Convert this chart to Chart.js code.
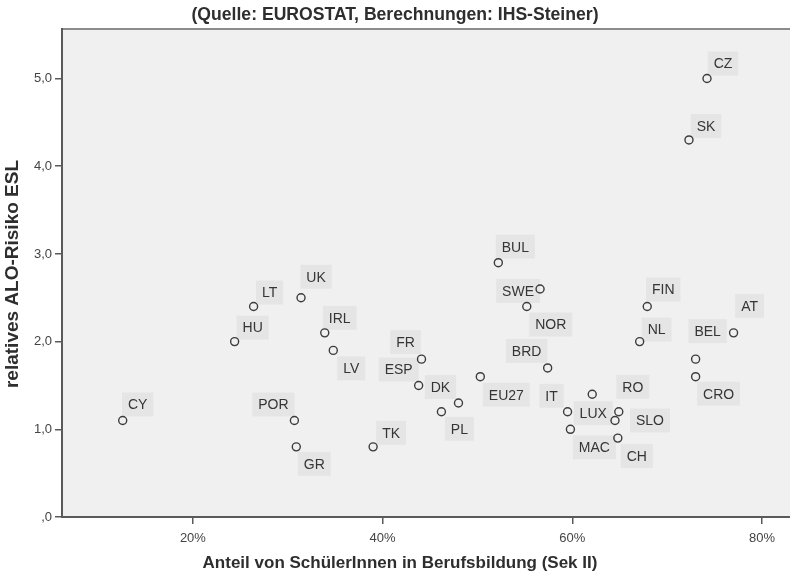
<!DOCTYPE html>
<html>
<head>
<meta charset="utf-8">
<script src="https://cdn.jsdelivr.net/npm/chart.js@4.4.1/dist/chart.umd.min.js"></script>
<style>
  html, body { margin: 0; padding: 0; background: #fff; }
  #wrap { width: 790px; height: 580px; position: relative; }
</style>
</head>
<body>
<div id="wrap"><canvas id="scatter"></canvas></div>
<script>
// data
const countries = ["CY", "HU", "LT", "UK", "IRL", "LV", "POR", "GR", "TK", "FR", "ESP",
  "DK", "PL", "EU27", "BRD", "BUL", "SWE", "NOR", "IT", "LUX", "MAC", "RO", "SLO",
  "CH", "FIN", "NL", "AT", "BEL", "CRO", "SK", "CZ"];
const vetShare = [12.6, 24.4, 26.4, 31.4, 33.9, 34.8, 30.7, 30.9, 39.0, 44.1, 43.8,
  48.0, 46.2, 50.3, 57.4, 52.2, 56.6, 55.2, 59.5, 62.1, 59.8, 64.9, 64.5,
  64.8, 67.9, 67.1, 77.0, 73.0, 73.0, 72.3, 74.2];
const riskRatio = [1.1, 2.0, 2.4, 2.5, 2.1, 1.9, 1.1, 0.8, 0.8, 1.8, 1.5,
  1.3, 1.2, 1.6, 1.7, 2.9, 2.6, 2.4, 1.2, 1.4, 1.0, 1.2, 1.1,
  0.9, 2.4, 2.0, 2.1, 1.8, 1.6, 4.3, 5.0];
const xTicks = [20, 40, 60, 80];
const yTicks = [0, 1, 2, 3, 4, 5];

// where each label sits relative to its point (px), same order as countries
const labelShift = [[15, -16], [18, -14], [16, -14], [15, -21], [15, -15], [18, 18],
  [-21, -16], [18, 17], [18, -14], [-16, -17], [-20, -16], [-18, -16], [18, 17],
  [26, 18], [-21, -17], [17, -16], [-22, 2], [24, 18], [-16, -16], [1, 19], [24, 18],
  [14, -25], [35, 0], [19, 18], [16, -17], [17, -12], [16, -27], [12, -28], [23, 17],
  [17, -14], [16, -15]];

const FONT = "'Liberation Sans', Arial, sans-serif";
const plotBg = "#f0f0f1";
const axisGray = "#5a5a5a";

const points = vetShare.map((v, i) => ({ x: v, y: riskRatio[i] }));

const frame = {
  id: "frame",
  beforeDraw(chart) {
    const { ctx, chartArea: a } = chart;
    ctx.save();
    ctx.fillStyle = plotBg;
    ctx.fillRect(a.left, a.top, a.right - a.left, a.bottom - a.top);
    ctx.strokeStyle = "#8c8c8c";
    ctx.lineWidth = 2;
    ctx.beginPath();
    ctx.moveTo(a.left, a.top);
    ctx.lineTo(a.right, a.top);
    ctx.stroke();
    ctx.restore();
  },
  afterDraw(chart) {
    const { ctx } = chart;
    ctx.save();
    ctx.fillStyle = "#2e2e2e";
    ctx.textAlign = "center";
    ctx.textBaseline = "middle";
    ctx.font = "bold 17.6px " + FONT;
    ctx.fillText("(Quelle: EUROSTAT, Berechnungen: IHS-Steiner)", 395, 15);
    ctx.font = "bold 17px " + FONT;
    ctx.fillText("Anteil von SchülerInnen in Berufsbildung (Sek II)", 400, 563);
    ctx.font = "bold 19px " + FONT;
    ctx.translate(13, 274);
    ctx.rotate(-Math.PI / 2);
    ctx.fillText("relatives ALO-Risiko ESL", 0, 0);
    ctx.restore();
  }
};

const pointLabels = {
  id: "pointLabels",
  afterDatasetsDraw(chart) {
    const { ctx } = chart;
    const meta = chart.getDatasetMeta(0);
    ctx.save();
    ctx.font = "14px " + FONT;
    ctx.textAlign = "center";
    ctx.textBaseline = "middle";
    meta.data.forEach((pt, i) => {
      const [dx, dy] = labelShift[i];
      const cx = pt.x + dx, cy = pt.y + dy;
      const w = ctx.measureText(countries[i]).width;
      ctx.fillStyle = "rgba(0,0,0,0.045)";
      ctx.fillRect(cx - w / 2 - 6, cy - 12, w + 12, 24);
      ctx.fillStyle = "#353535";
      ctx.fillText(countries[i], cx, cy + 1);
    });
    ctx.restore();
  }
};

new Chart(document.getElementById("scatter"), {
  type: "scatter",
  data: {
    datasets: [{
      data: points,
      pointRadius: 4,
      pointHoverRadius: 4,
      pointBorderWidth: 1.4,
      borderColor: "#3c3c3c",
      backgroundColor: "rgba(0,0,0,0)",
    }],
  },
  options: {
    responsive: true,
    maintainAspectRatio: false,
    animation: false,
    layout: { autoPadding: false, padding: { top: 29, right: 0, left: 0, bottom: 0 } },
    plugins: {
      legend: { display: false },
      tooltip: { enabled: false },
    },
    scales: {
      x: {
        type: "linear",
        min: 6.2,
        max: 82.95,
        afterBuildTicks: (s) => { s.ticks = xTicks.map(v => ({ value: v })); },
        afterFit: (s) => { s.height = 63; s.paddingLeft = 0; s.paddingRight = 0; },
        grid: { drawOnChartArea: false, tickLength: 7, color: axisGray, lineWidth: 1.5 },
        border: { color: axisGray, width: 2 },
        ticks: {
          padding: 7,
          color: "#444",
          font: { family: FONT, size: 13 },
          callback: (v) => v + "%",
        },
      },
      y: {
        type: "linear",
        min: 0,
        max: 5.565,
        afterBuildTicks: (s) => { s.ticks = yTicks.map(v => ({ value: v })); },
        afterFit: (s) => { s.width = 62; s.paddingTop = 0; s.paddingBottom = 0; },
        grid: { drawOnChartArea: false, tickLength: 7, color: axisGray, lineWidth: 1.5 },
        border: { color: axisGray, width: 2 },
        ticks: {
          padding: 3,
          color: "#444",
          font: { family: FONT, size: 13 },
          callback: (v) => v === 0 ? ",0" : v.toFixed(1).replace(".", ","),
        },
      },
    },
  },
  plugins: [frame, pointLabels],
});
</script>
</body>
</html>
